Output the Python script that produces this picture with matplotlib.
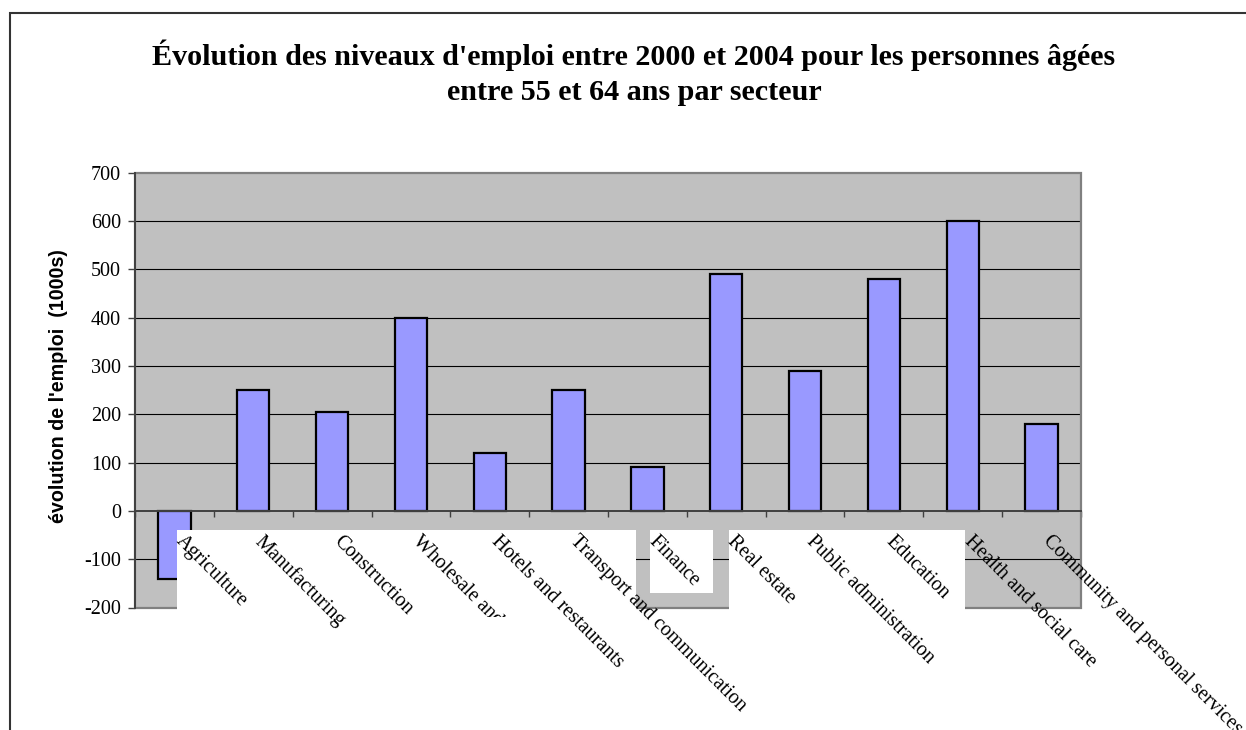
import matplotlib
import matplotlib.pyplot as plt
import numpy as np
from matplotlib.patches import Rectangle
from matplotlib.transforms import Bbox, TransformedBbox
matplotlib.use('Agg')

secteurs = ["Agriculture", "Manufacturing", "Construction",
            "Wholesale and retail trade", "Hotels and restaurants",
            "Transport and communication", "Finance", "Real estate",
            "Public administration", "Education", "Health and social care",
            "Community and personal services"]
evolution = [-140, 250, 205, 400, 120, 250, 90, 490, 290, 480, 600, 180]
yticks = [-200, -100, 0, 100, 200, 300, 400, 500, 600, 700]

titre = ("Évolution des niveaux d'emploi entre 2000 et 2004 pour les personnes âgées\n"
         "entre 55 et 64 ans par secteur")
ylabel = "évolution de l'emploi  (1000s)"

# the white boxes excel leaves behind the rotated labels: (from, to, bottom)
boites = [(0.03, 5.85, -215), (6.03, 6.83, -171), (7.03, 10.03, -215)]
coupes = ["Construction", "Wholesale and retail trade"]

W, H = 1246, 730
fig = plt.figure(figsize=(W / 100, H / 100), dpi=100)
ax = fig.add_axes([135 / W, 1 - 607.5 / H, (1081 - 135) / W, (607.5 - 172.7) / H])

serif = ["Liberation Serif", "DejaVu Serif"]

# outer chart border
fig.patches.append(Rectangle((9.5 / W, -0.1), 1.2, 1 - 12.7 / H + 0.1,
                             transform=fig.transFigure, fill=False,
                             edgecolor="#333333", linewidth=1.5))

x = np.arange(len(secteurs))
ax.set_facecolor("#C0C0C0")
ax.set_xlim(-0.5, len(secteurs) - 0.5)
ax.set_ylim(-200, 700)

for v in yticks:
    if v not in (0, -200, 700):
        ax.axhline(v, color="black", linewidth=0.8, zorder=1)

ax.bar(x, evolution, width=0.41, color="#9999FF", edgecolor="black",
       linewidth=1.6, zorder=3)

# plot area frame
ax.add_patch(Rectangle((0, 0), 1, 1, transform=ax.transAxes, fill=False,
                       edgecolor="#808080", linewidth=1.6, zorder=1.6,
                       clip_on=False))
for s in ["top", "right"]:
    ax.spines[s].set_visible(False)
ax.spines["left"].set_color("#404040")
ax.spines["left"].set_linewidth(1.4)
ax.spines["left"].set_zorder(5)
ax.spines["bottom"].set_position(("data", 0))
ax.spines["bottom"].set_color("#404040")
ax.spines["bottom"].set_linewidth(1.4)
ax.spines["bottom"].set_zorder(3.5)

ax.set_yticks(yticks)
ax.set_yticklabels([str(v) for v in yticks], family=serif, fontsize=14.5)
ax.tick_params(axis="y", direction="out", length=5, width=1, color="#404040", pad=5)
ax.set_xticks(np.arange(-0.5, len(secteurs), 1))
ax.set_xticklabels([])
ax.tick_params(axis="x", direction="out", length=4, width=1, color="#404040")

for a, b, bas in boites:
    ax.add_patch(Rectangle((a, bas), b - a, -40 - bas, facecolor="white",
                           edgecolor="none", zorder=4, clip_on=False))

for i, nom in enumerate(secteurs):
    t = fig.text(i + 0.14, -43, nom, transform=ax.transData, rotation=-45,
                 rotation_mode="anchor", ha="left", va="top",
                 family=serif, fontsize=14.5, zorder=6)
    if nom in coupes:
        t.set_clip_box(TransformedBbox(Bbox([[0, 113 / H], [1, 1]]), fig.transFigure))
        t.set_clip_on(True)

fig.text(58.5 / W, 1 - 386.5 / H, ylabel, rotation=90, ha="center", va="center",
         family=["Liberation Sans", "DejaVu Sans"], fontweight="bold", fontsize=14.2)

fig.text(634 / W, 1 - 100 / H, titre, ha="center", va="baseline",
         family=serif, fontweight="bold", fontsize=21.7, linespacing=1.38)

plt.savefig("out.png", dpi=100)
